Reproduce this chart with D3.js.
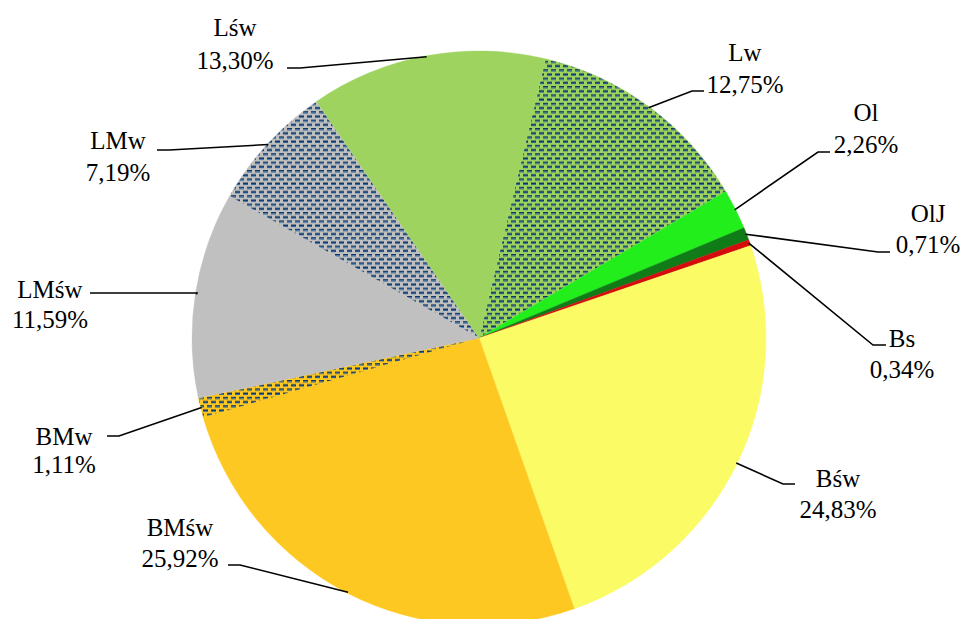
<!DOCTYPE html>
<html>
<head>
<meta charset="utf-8">
<script src="https://cdn.jsdelivr.net/npm/d3@7"></script>
<style>
  html, body { margin: 0; padding: 0; background: #ffffff; }
  svg { display: block; }
  .lbl { font-family: "Liberation Serif", "Times New Roman", Times, "DejaVu Serif", serif; font-size: 25px; }
</style>
</head>
<body>
<svg id="chart" width="965" height="619"></svg>
<script>
// ---- data ----
const categories = ["Lw", "Ol", "OlJ", "Bs", "Bśw", "BMśw", "BMw", "LMśw", "LMw", "Lśw"];
const values = [12.75, 2.26, 0.71, 0.34, 24.83, 25.92, 1.11, 11.59, 7.19, 13.30];

// ---- style ----
const fills = ["#9dd35e", "#22ee1c", "#107c18", "#d40c0c", "#fbfb66", "#fec822", "#fec822", "#c0c0c0", "#c0c0c0", "#9dd35e"];
const patterned = [true, false, false, false, false, false, true, false, true, false];

// label layout: text centre x, line centres y1/y2, leader horizontal segment (hx1 -> hx2 at hy)
const labelLayout = {
  "Lw":   { x: 745, y1: 52,  y2: 84,  hx1: 692, hx2: 704, hy: 91 },
  "Ol":   { x: 866, y1: 112, y2: 144, hx1: 818, hx2: 830, hy: 152 },
  "OlJ":  { x: 928, y1: 213, y2: 244, hx1: 878, hx2: 890, hy: 252 },
  "Bs":   { x: 902, y1: 338, y2: 369, hx1: 873, hx2: 886, hy: 345 },
  "Bśw":  { x: 838, y1: 478, y2: 509, hx1: 783, hx2: 795, hy: 484 },
  "BMśw": { x: 180, y1: 527, y2: 558, hx1: 240, hx2: 228, hy: 565 },
  "BMw":  { x: 64,  y1: 436, y2: 464, hx1: 119, hx2: 107, hy: 436 },
  "LMśw": { x: 50,  y1: 289, y2: 319, hx1: 197, hx2: 90,  hy: 293 },
  "LMw":  { x: 118, y1: 140, y2: 172, hx1: 169, hx2: 157, hy: 150 },
  "Lśw":  { x: 235, y1: 27,  y2: 60,  hx1: 300, hx2: 287, hy: 68 }
};

const cx = 479, cy = 338, R = 287;
const startDeg = 13.4;

const svg = d3.select("#chart");
const defs = svg.append("defs");

// dash pattern builder
function makePattern(id, bg) {
  const p = defs.append("pattern")
    .attr("id", id)
    .attr("patternUnits", "userSpaceOnUse")
    .attr("width", 8).attr("height", 8.4);
  p.append("rect").attr("width", 8).attr("height", 8.4).attr("fill", bg);
  const dashes = [[0, 0], [4, 4.2], [-4, 4.2]];
  dashes.forEach(([x, y]) => {
    p.append("rect").attr("x", x).attr("y", y).attr("width", 5).attr("height", 1.4).attr("fill", "#123460");
    p.append("rect").attr("x", x).attr("y", y + 1.4).attr("width", 5).attr("height", 1.0).attr("fill", "#2a64a0");
  });
}

const data = categories.map((c, i) => ({ cat: c, value: values[i], i }));

data.forEach(d => {
  if (patterned[d.i]) makePattern("pat" + d.i, fills[d.i]);
});

const a0 = startDeg * Math.PI / 180;
const pie = d3.pie().value(d => d.value).sort(null).startAngle(a0).endAngle(a0 + 2 * Math.PI);
const arcs = pie(data);
const arc = d3.arc().innerRadius(0).outerRadius(R);

const g = svg.append("g").attr("transform", `translate(${cx},${cy})`);
g.selectAll("path.slice")
  .data(arcs)
  .join("path")
  .attr("class", "slice")
  .attr("d", arc)
  .attr("fill", d => patterned[d.data.i] ? `url(#pat${d.data.i})` : fills[d.data.i])
  .attr("stroke", d => fills[d.data.i])
  .attr("stroke-width", 0.4);

const fmt = v => d3.format(".2f")(v).replace(".", ",") + "%";

// leaders
const leaders = svg.append("g");
arcs.forEach(a => {
  const L = labelLayout[a.data.cat];
  const mid = (a.startAngle + a.endAngle) / 2;
  const px = cx + (R - 1) * Math.sin(mid);
  const py = cy - (R - 1) * Math.cos(mid);
  leaders.append("path")
    .attr("d", `M${px},${py}L${L.hx1},${L.hy}L${L.hx2},${L.hy}`)
    .attr("fill", "none")
    .attr("stroke", "#000")
    .attr("stroke-width", 1.6);
});

// labels
const labels = svg.append("g")
  .attr("class", "lbl")
  .attr("fill", "#000")
  .attr("text-anchor", "middle");
arcs.forEach(a => {
  const L = labelLayout[a.data.cat];
  labels.append("text").attr("x", L.x).attr("y", L.y1).attr("dy", "0.35em").text(a.data.cat);
  labels.append("text").attr("x", L.x).attr("y", L.y2).attr("dy", "0.35em").text(fmt(a.data.value));
});
</script>
</body>
</html>
